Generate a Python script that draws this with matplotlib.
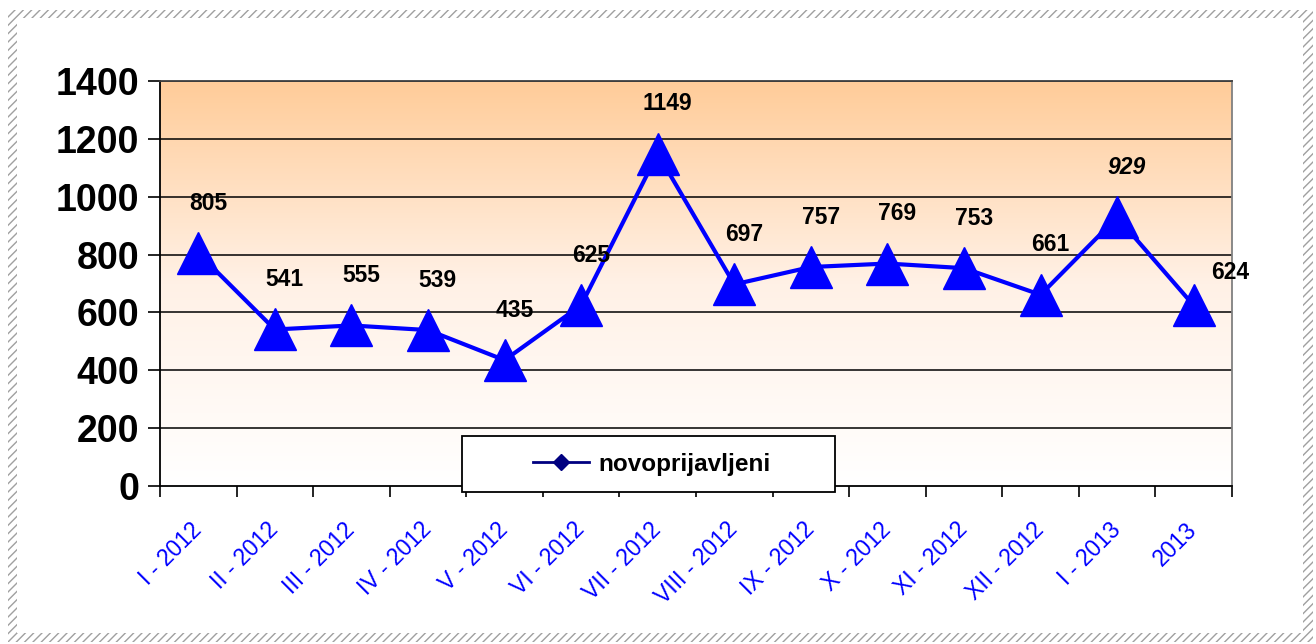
import matplotlib
matplotlib.use("Agg")
import matplotlib.pyplot as plt
import numpy as np
from matplotlib.lines import Line2D
from matplotlib.patches import Rectangle
from matplotlib.colors import LinearSegmentedColormap

plt.rcParams["font.family"] = ["Liberation Sans", "DejaVu Sans"]

# Data
months = ["I - 2012", "II - 2012", "III - 2012", "IV - 2012", "V - 2012",
          "VI - 2012", "VII - 2012", "VIII - 2012", "IX - 2012", "X - 2012",
          "XI - 2012", "XII - 2012", "I - 2013", "2013"]
novoprijavljeni = [805, 541, 555, 539, 435, 625, 1149, 697, 757, 769, 753, 661, 929, 624]
y_ticks = [0, 200, 400, 600, 800, 1000, 1200, 1400]

W, H = 1316, 644
fig = plt.figure(figsize=(W / 100, H / 100), dpi=100)
fig.patch.set_facecolor("white")

# Hatched frame around the figure
def band(x0, y0, x1, y1):
    r = Rectangle((x0 / W, 1 - y1 / H), (x1 - x0) / W, (y1 - y0) / H,
                  transform=fig.transFigure, facecolor="white", edgecolor="#a0a0a0",
                  hatch="////", lw=0, zorder=-5)
    fig.patches.append(r)

band(8, 10, 1313, 18)
band(8, 633, 1313, 642)
band(8, 10, 17, 642)
band(1303, 10, 1313, 642)

ax = fig.add_axes([160 / W, 1 - 486 / H, (1232 - 160) / W, (486 - 81) / H])

# Gradient background (orange at top to white at bottom)
cmap = LinearSegmentedColormap.from_list("bg", ["#FFFFFF", "#FFF1E6", "#FFCC99"])
grad = np.linspace(0, 1, 256).reshape(-1, 1)
ax.imshow(grad, cmap=cmap, aspect="auto", extent=[0, 14, 0, 1400],
          origin="lower", zorder=0)

x = np.arange(len(months)) + 0.5
ax.plot(x, novoprijavljeni, color="#0000FF", lw=3, marker="^", markersize=30,
        markerfacecolor="#0000FF", markeredgecolor="#0000FF", zorder=3)

# Data labels
for i, (xi, v) in enumerate(zip(x, novoprijavljeni)):
    style = "italic" if i == 12 else "normal"
    if i == len(months) - 1:
        off = (26, 24)
    else:
        off = (7, 36)
    ax.annotate(str(v), (xi, v), xytext=off, textcoords="offset points",
                ha="center", va="center", fontsize=16.5, fontweight="bold",
                fontstyle=style, color="black", zorder=4)

ax.set_xlim(0, 14)
ax.set_ylim(0, 1400)
ax.set_yticks(y_ticks)
ax.set_yticklabels([str(t) for t in y_ticks], fontsize=27, fontweight="bold")
ax.tick_params(axis="y", length=9, width=1.2, direction="out", pad=6)

for t in y_ticks[1:]:
    ax.axhline(t, color="black", lw=1.1, zorder=1)

ax.set_xticks(x)
ax.set_xticklabels(months, rotation=45, ha="right", va="center",
                   rotation_mode="anchor", color="#0000FF", fontsize=16.5)
ax.tick_params(axis="x", length=0, pad=29)
ax.set_xticks(np.arange(0, 15), minor=True)
ax.tick_params(axis="x", which="minor", length=8, width=1.2, direction="out")

ax.spines["left"].set_color("black")
ax.spines["left"].set_linewidth(1.3)
ax.spines["bottom"].set_color("black")
ax.spines["bottom"].set_linewidth(1.3)
ax.spines["right"].set_color("#808080")
ax.spines["right"].set_linewidth(1.3)
ax.spines["top"].set_color("#404040")
ax.spines["top"].set_linewidth(1.3)

# Legend box
box = Rectangle((462 / W, 1 - 492 / H), (835 - 462) / W, (492 - 436) / H,
                transform=fig.transFigure, facecolor="white", edgecolor="black",
                lw=1.3, zorder=10)
fig.patches.append(box)
handle = Line2D([], [], color="#000080", lw=2, marker="D", markersize=8,
                markerfacecolor="#000080", markeredgecolor="#000080")
leg = fig.legend([handle], ["novoprijavljeni"], loc="center",
                 bbox_to_anchor=(652 / W, 1 - 464 / H), frameon=False,
                 prop={"size": 17.5, "weight": "bold"}, handlelength=2.3,
                 handletextpad=0.4)
leg.set_zorder(11)

fig.savefig("out.png", dpi=100)
